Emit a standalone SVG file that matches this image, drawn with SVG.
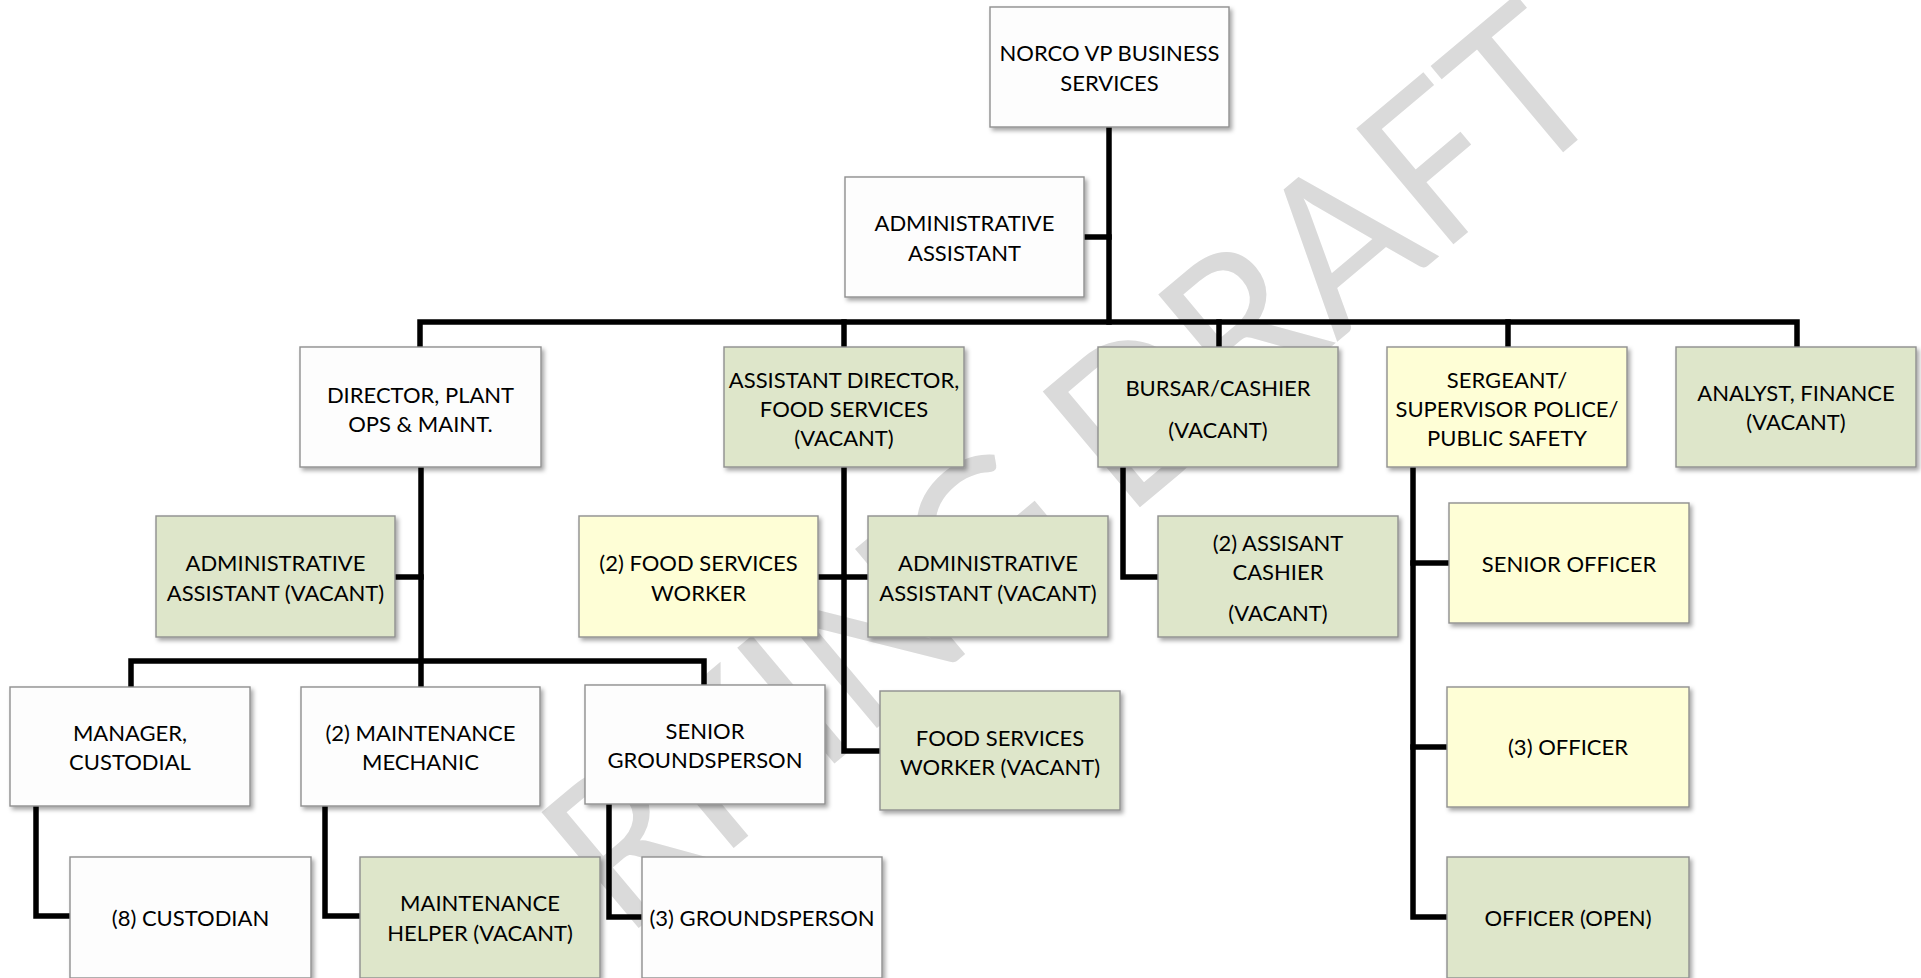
<svg xmlns="http://www.w3.org/2000/svg" width="1921" height="978" viewBox="0 0 1921 978">
  <defs>
    <filter id="shadow" x="-10%" y="-10%" width="125%" height="130%">
      <feDropShadow dx="2.5" dy="3" stdDeviation="2" flood-color="#000" flood-opacity="0.35"/>
    </filter>
  </defs>
  <style>
    .box { stroke: #8f8f8f; stroke-width: 1.4; filter: url(#shadow); }
    .white { fill: #fdfdfd; }
    .green { fill: #dee6ca; }
    .yellow { fill: #fefed6; }
    .lbl { font-family: Lato, "Open Sans", sans-serif; font-size: 22px; fill: #000; text-anchor: middle; }
    .wire { fill: none; stroke: #000; stroke-width: 5.5; stroke-linejoin: miter; stroke-linecap: square; }
    .mark { font-family: Lato, "Open Sans", sans-serif; font-size: 211px; fill: #dadada; }
  </style>
  <rect width="1921" height="978" fill="#fff"/>

  <!-- background stamp, set on a 40 degree slant -->
  <g transform="translate(1126 519) rotate(-40) scale(0.94 1)">
    <text class="mark" x="-50" y="0" text-anchor="end">WORKING</text>
    <text class="mark" x="0" y="0">DRAFT</text>
  </g>

  <g id="connectors">
    <!-- top level -->
    <path class="wire" d="M1109 127 V322"/>
    <path class="wire" d="M1084 237 H1109"/>
    <path class="wire" d="M420 347 V322 H1797 V347"/>
    <path class="wire" d="M844 322 V347"/>
    <path class="wire" d="M1219 322 V347"/>
    <path class="wire" d="M1508 322 V347"/>
    <!-- plant ops -->
    <path class="wire" d="M421 467 V687"/>
    <path class="wire" d="M395 577 H421"/>
    <path class="wire" d="M131 687 V661 H704 V685"/>
    <path class="wire" d="M36 806 V916 H70"/>
    <path class="wire" d="M325 806 V916 H360"/>
    <path class="wire" d="M609 804 V917 H642"/>
    <!-- food services -->
    <path class="wire" d="M844 467 V751 H880"/>
    <path class="wire" d="M818 577 H868"/>
    <!-- bursar -->
    <path class="wire" d="M1123 467 V577 H1158"/>
    <!-- police -->
    <path class="wire" d="M1413 467 V917 H1447"/>
    <path class="wire" d="M1413 563 H1449"/>
    <path class="wire" d="M1413 747 H1447"/>
  </g>

  <g id="vp">
    <rect class="box white" x="990" y="7" width="239" height="120"/>
    <text class="lbl" x="1109.5" y="61">NORCO VP BUSINESS</text>
    <text class="lbl" x="1109.5" y="91">SERVICES</text>
  </g>
  <g id="admin-assistant">
    <rect class="box white" x="845" y="177" width="239" height="120"/>
    <text class="lbl" x="964.5" y="231">ADMINISTRATIVE</text>
    <text class="lbl" x="964.5" y="261">ASSISTANT</text>
  </g>
  <g id="director-plant">
    <rect class="box white" x="300" y="347" width="241" height="120"/>
    <text class="lbl" x="420.5" y="403">DIRECTOR, PLANT</text>
    <text class="lbl" x="420.5" y="432">OPS &amp; MAINT.</text>
  </g>
  <g id="asst-director-food">
    <rect class="box green" x="724" y="347" width="240" height="120"/>
    <text class="lbl" x="844" y="388">ASSISTANT DIRECTOR,</text>
    <text class="lbl" x="844" y="417">FOOD SERVICES</text>
    <text class="lbl" x="844" y="446">(VACANT)</text>
  </g>
  <g id="bursar">
    <rect class="box green" x="1098" y="347" width="240" height="120"/>
    <text class="lbl" x="1218" y="396">BURSAR/CASHIER</text>
    <text class="lbl" x="1218" y="438">(VACANT)</text>
  </g>
  <g id="sergeant">
    <rect class="box yellow" x="1387" y="347" width="240" height="120"/>
    <text class="lbl" x="1507" y="388">SERGEANT/</text>
    <text class="lbl" x="1507" y="417">SUPERVISOR POLICE/</text>
    <text class="lbl" x="1507" y="446">PUBLIC SAFETY</text>
  </g>
  <g id="analyst">
    <rect class="box green" x="1676" y="347" width="240" height="120"/>
    <text class="lbl" x="1796" y="401">ANALYST, FINANCE</text>
    <text class="lbl" x="1796" y="430">(VACANT)</text>
  </g>
  <g id="admin-assistant-plant">
    <rect class="box green" x="156" y="516" width="239" height="121"/>
    <text class="lbl" x="275.5" y="571">ADMINISTRATIVE</text>
    <text class="lbl" x="275.5" y="601">ASSISTANT (VACANT)</text>
  </g>
  <g id="food-worker-2">
    <rect class="box yellow" x="579" y="516" width="239" height="121"/>
    <text class="lbl" x="698.5" y="571">(2) FOOD SERVICES</text>
    <text class="lbl" x="698.5" y="601">WORKER</text>
  </g>
  <g id="admin-assistant-food">
    <rect class="box green" x="868" y="516" width="240" height="121"/>
    <text class="lbl" x="988" y="571">ADMINISTRATIVE</text>
    <text class="lbl" x="988" y="601">ASSISTANT (VACANT)</text>
  </g>
  <g id="assistant-cashier">
    <rect class="box green" x="1158" y="516" width="240" height="121"/>
    <text class="lbl" x="1278" y="551">(2) ASSISANT</text>
    <text class="lbl" x="1278" y="580">CASHIER</text>
    <text class="lbl" x="1278" y="621">(VACANT)</text>
  </g>
  <g id="senior-officer">
    <rect class="box yellow" x="1449" y="503" width="240" height="120"/>
    <text class="lbl" x="1569" y="572">SENIOR OFFICER</text>
  </g>
  <g id="manager-custodial">
    <rect class="box white" x="10" y="687" width="240" height="119"/>
    <text class="lbl" x="130" y="741">MANAGER,</text>
    <text class="lbl" x="130" y="770">CUSTODIAL</text>
  </g>
  <g id="maintenance-mechanic">
    <rect class="box white" x="301" y="687" width="239" height="119"/>
    <text class="lbl" x="420.5" y="741">(2) MAINTENANCE</text>
    <text class="lbl" x="420.5" y="770">MECHANIC</text>
  </g>
  <g id="senior-groundsperson">
    <rect class="box white" x="585" y="685" width="240" height="119"/>
    <text class="lbl" x="705" y="739">SENIOR</text>
    <text class="lbl" x="705" y="768">GROUNDSPERSON</text>
  </g>
  <g id="food-worker-vacant">
    <rect class="box green" x="880" y="691" width="240" height="119"/>
    <text class="lbl" x="1000" y="746">FOOD SERVICES</text>
    <text class="lbl" x="1000" y="775">WORKER (VACANT)</text>
  </g>
  <g id="officer-3">
    <rect class="box yellow" x="1447" y="687" width="242" height="120"/>
    <text class="lbl" x="1568" y="755">(3) OFFICER</text>
  </g>
  <g id="custodian">
    <rect class="box white" x="70" y="857" width="241" height="121"/>
    <text class="lbl" x="190.5" y="926">(8) CUSTODIAN</text>
  </g>
  <g id="maintenance-helper">
    <rect class="box green" x="360" y="857" width="240" height="121"/>
    <text class="lbl" x="480" y="911">MAINTENANCE</text>
    <text class="lbl" x="480" y="941">HELPER (VACANT)</text>
  </g>
  <g id="groundsperson-3">
    <rect class="box white" x="642" y="857" width="240" height="121"/>
    <text class="lbl" x="762" y="926">(3) GROUNDSPERSON</text>
  </g>
  <g id="officer-open">
    <rect class="box green" x="1447" y="857" width="242" height="121"/>
    <text class="lbl" x="1568" y="926">OFFICER (OPEN)</text>
  </g>
</svg>
